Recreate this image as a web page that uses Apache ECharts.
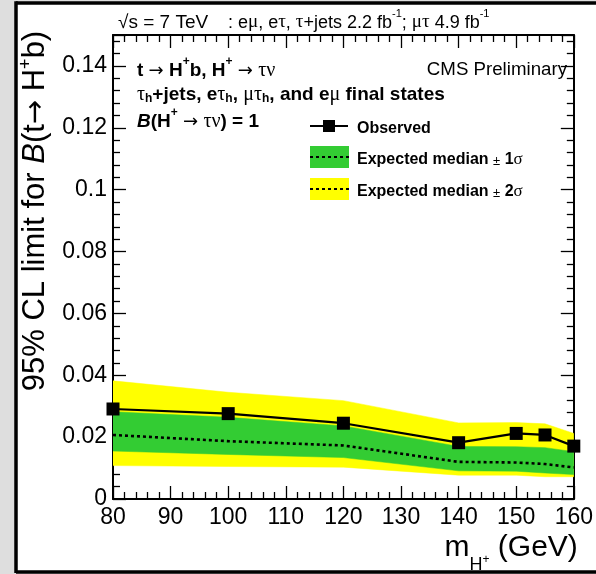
<!DOCTYPE html>
<html>
<head>
<meta charset="utf-8">
<script src="https://cdn.jsdelivr.net/npm/echarts@6/dist/echarts.min.js"></script>
<style>
  html, body { margin: 0; padding: 0; background: #dedede; }
  #chart { width: 596px; height: 574px; }
</style>
</head>
<body>
<div id="chart"></div>
<script>
// Charged Higgs mass points (GeV)
const massPoints = [80, 100, 120, 140, 150, 155, 160];
// 95% CL upper limits on B(t -> H+ b)
const observed       = [0.0291, 0.0276, 0.0245, 0.0182, 0.0212, 0.0207, 0.0171];
const expectedMedian = [0.0207, 0.0187, 0.0173, 0.0120, 0.0118, 0.0113, 0.0102];
const expected1sUp   = [0.0282, 0.0264, 0.0236, 0.0170, 0.0169, 0.0166, 0.0153];
const expected1sDown = [0.0155, 0.0144, 0.0134, 0.0091, 0.0090, 0.0084, 0.0079];
const expected2sUp   = [0.0382, 0.0345, 0.0318, 0.0246, 0.0247, 0.0243, 0.0212];
const expected2sDown = [0.0108, 0.0105, 0.0103, 0.0077, 0.0077, 0.0072, 0.0072];
// Axis tick labels
const xTicks = [80, 90, 100, 110, 120, 130, 140, 150, 160];
const yTicks = [0, 0.02, 0.04, 0.06, 0.08, 0.1, 0.12, 0.14];

const SANS = "'Liberation Sans', Arial, Helvetica, sans-serif";
const SERIF = "'Liberation Serif', 'DejaVu Serif', serif";
const ARROW = "'DejaVu Sans', 'Liberation Sans', sans-serif";
const GREEN = '#33cc33';
const YELLOW = '#ffff00';

function richSet(size, weight) {
  const lh = size + 6;
  const base = { fontFamily: SANS, fontSize: size, fontWeight: weight, fill: '#000', color: '#000', lineHeight: lh, verticalAlign: 'bottom' };
  return {
    n: base,
    i: Object.assign({}, base, { fontStyle: 'italic' }),
    g: Object.assign({}, base, { fontFamily: SERIF, fontWeight: 'normal', fontSize: size + 1 }),
    ar: Object.assign({}, base, { fontFamily: ARROW, fontWeight: 'normal', fontSize: size - 1 }),
    pm: Object.assign({}, base, { fontWeight: 'normal', fontSize: size - 3 }),
    sup: { fontFamily: SANS, fontSize: Math.round(size * 0.62), fontWeight: weight, fill: '#000', color: '#000',
           lineHeight: Math.round(size * 0.7), verticalAlign: 'top' },
    sub: { fontFamily: SANS, fontSize: Math.round(size * 0.62), fontWeight: weight, fill: '#000', color: '#000',
           lineHeight: Math.round(size * 0.45), verticalAlign: 'bottom' }
  };
}

function label(x, y, text, size, weight, align) {
  return {
    type: 'text', x: x, y: y, z: 50, silent: true,
    style: {
      text: text, rich: richSet(size, weight), fill: '#000',
      align: align || 'left', verticalAlign: 'middle',
      textAlign: align || 'left', textVerticalAlign: 'middle'
    }
  };
}

function isTick(list, v) {
  return list.some(t => Math.abs(t - v) < 1e-9);
}

// Filled band between an upper and a lower limit curve
function bandSeries(name, upper, lower, color, z) {
  return {
    type: 'custom', name: name, silent: true, clip: true, z: z,
    xAxisIndex: 0, yAxisIndex: 0,
    data: [[massPoints[0], lower[0]]],
    encode: { x: 0, y: 1 },
    renderItem: function (params, api) {
      const pts = [];
      for (let i = 0; i < massPoints.length; i++) pts.push(api.coord([massPoints[i], upper[i]]));
      for (let i = massPoints.length - 1; i >= 0; i--) pts.push(api.coord([massPoints[i], lower[i]]));
      return { type: 'polygon', shape: { points: pts }, style: { fill: color, stroke: color, lineWidth: 0.5 } };
    }
  };
}

const tickStyle = { color: '#000', width: 1.3 };
function frameAxis(extra) {
  return Object.assign({
    type: 'value',
    axisLine: { show: true, onZero: false, lineStyle: { color: '#000', width: 2 } },
    axisTick: { show: true, inside: true, length: 13, lineStyle: tickStyle },
    minorTick: { show: true, splitNumber: 5, length: 7, lineStyle: tickStyle },
    splitLine: { show: false },
    minorSplitLine: { show: false }
  }, extra);
}

function frameLine(x1, y1, x2, y2) {
  return {
    type: 'line', z: -5, silent: true,
    shape: { x1: x1, y1: y1, x2: x2, y2: y2 },
    style: { stroke: '#000', lineWidth: 3.5 }
  };
}

const chart = echarts.init(document.getElementById('chart'), null, { renderer: 'canvas' });

chart.setOption({
  backgroundColor: '#dedede',
  animation: false,
  grid: { left: 113, right: 17, top: 35, bottom: 75, containLabel: false },
  xAxis: [
    frameAxis({
      position: 'bottom', min: 80, max: 160, interval: 10,
      axisLabel: {
        show: true, margin: 7, color: '#000', fontFamily: SANS, fontSize: 23,
        showMaxLabel: true, showMinLabel: true,
        formatter: v => (isTick(xTicks, v) ? String(v) : '')
      },
      name: '{n|m}{sub|H}{sp|+}{n| (GeV)}',
      nameLocation: 'end', nameGap: 4,
      nameTextStyle: {
        align: 'right', verticalAlign: 'top', padding: [34, 0, 0, 0],
        rich: {
          n: { fontFamily: SANS, fontSize: 30, color: '#000', lineHeight: 30, verticalAlign: 'top' },
          sub: { fontFamily: SANS, fontSize: 18, color: '#000', lineHeight: 18, verticalAlign: 'top', padding: [23, 0, 0, 0] },
          sp: { fontFamily: SANS, fontSize: 12, color: '#000', lineHeight: 12, verticalAlign: 'top', padding: [21, 0, 0, 0] }
        }
      }
    }),
    frameAxis({
      position: 'top', min: 80, max: 160, interval: 10,
      axisLabel: { show: false }
    })
  ],
  yAxis: [
    frameAxis({
      position: 'left', min: 0, max: 0.15, interval: 0.02,
      axisLabel: {
        show: true, margin: 6, color: '#000', fontFamily: SANS, fontSize: 23,
        formatter: v => (isTick(yTicks, v) ? String(+v.toFixed(2)) : '')
      },
      name: '{n|95% CL limit for }{i|B}{n|(t}{ar|\u2192}{n| H}{sup|+}{n|b)}',
      nameLocation: 'middle', nameGap: 51, nameRotate: 90,
      nameTextStyle: {
        padding: [0, 0, 0, 112],
        rich: {
          n: { fontFamily: SANS, fontSize: 31, color: '#000', lineHeight: 34, verticalAlign: 'bottom' },
          i: { fontFamily: SANS, fontSize: 31, fontStyle: 'italic', color: '#000', lineHeight: 34, verticalAlign: 'bottom' },
          ar: { fontFamily: ARROW, fontSize: 29, color: '#000', lineHeight: 34, verticalAlign: 'bottom' },
          sup: { fontFamily: SANS, fontSize: 18, color: '#000', lineHeight: 18, verticalAlign: 'top' }
        }
      }
    }),
    frameAxis({
      position: 'right', min: 0, max: 0.15, interval: 0.02,
      axisLabel: { show: false }
    })
  ],
  series: [
    bandSeries('Expected median \u00b1 2\u03c3', expected2sUp, expected2sDown, YELLOW, 1),
    bandSeries('Expected median \u00b1 1\u03c3', expected1sUp, expected1sDown, GREEN, 2),
    {
      type: 'line', name: 'Expected median', z: 3,
      data: massPoints.map((m, i) => [m, expectedMedian[i]]),
      symbol: 'none', silent: true,
      lineStyle: { color: '#000', width: 2.6, type: [3, 3] }
    },
    {
      type: 'line', name: 'Observed', z: 4,
      data: massPoints.map((m, i) => [m, observed[i]]),
      symbol: 'rect', symbolSize: 13, silent: true,
      itemStyle: { color: '#000' },
      lineStyle: { color: '#000', width: 2.2 }
    }
  ],
  graphic: [
    // white canvas with black frame on the visible sides
    {
      type: 'rect', z: -10, silent: true,
      shape: { x: 16, y: 3, width: 580, height: 569 },
      style: { fill: '#ffffff' }
    },
    frameLine(16, 3, 596, 3),
    frameLine(16, 1.25, 16, 573),
    frameLine(16, 572, 596, 572),
    // header
    label(118, 20, '{n|\u221as = 7 TeV}', 19, 'normal'),
    label(228, 20, '{n|: e}{g|\u03bc}{n|, e}{g|\u03c4}{n|, }{g|\u03c4}{n|+jets 2.2 fb}{sup|-1}{n|; }{g|\u03bc\u03c4}{n| 4.9 fb}{sup|-1}', 18, 'normal'),
    // annotations inside the frame
    label(137, 68, '{n|t }{ar|\u2192}{n| H}{sup|+}{n|b, H}{sup|+}{n| }{ar|\u2192}{n| }{g|\u03c4\u03bd}', 19, 'bold'),
    label(137, 92, '{g|\u03c4}{sub|h}{n|+jets, e}{g|\u03c4}{sub|h}{n|, }{g|\u03bc\u03c4}{sub|h}{n|, and e}{g|\u03bc}{n| final states}', 19, 'bold'),
    label(137, 119, '{i|B}{n|(H}{sup|+}{n| }{ar|\u2192}{n| }{g|\u03c4\u03bd}{n|) = 1}', 19, 'bold'),
    label(567, 67, '{n|CMS Preliminary}', 18.7, 'normal', 'right'),
    // legend: observed
    {
      type: 'line', z: 50, silent: true,
      shape: { x1: 310, y1: 126, x2: 348, y2: 126 },
      style: { stroke: '#000', lineWidth: 2.2 }
    },
    {
      type: 'rect', z: 51, silent: true,
      shape: { x: 323, y: 120, width: 12, height: 12 },
      style: { fill: '#000' }
    },
    label(357, 126, '{n|Observed}', 16, 'bold'),
    // legend: 1 sigma
    {
      type: 'rect', z: 50, silent: true,
      shape: { x: 310, y: 146, width: 39, height: 22 },
      style: { fill: GREEN }
    },
    {
      type: 'line', z: 51, silent: true,
      shape: { x1: 310, y1: 157, x2: 349, y2: 157 },
      style: { stroke: '#000', lineWidth: 2.2, lineDash: [3, 3] }
    },
    label(357, 157, '{n|Expected median }{pm|\u00b1}{n| 1}{g|\u03c3}', 16, 'bold'),
    // legend: 2 sigma
    {
      type: 'rect', z: 50, silent: true,
      shape: { x: 310, y: 178, width: 39, height: 22 },
      style: { fill: YELLOW }
    },
    {
      type: 'line', z: 51, silent: true,
      shape: { x1: 310, y1: 189, x2: 349, y2: 189 },
      style: { stroke: '#000', lineWidth: 2.2, lineDash: [3, 3] }
    },
    label(357, 189, '{n|Expected median }{pm|\u00b1}{n| 2}{g|\u03c3}', 16, 'bold')
  ]
});
</script>
</body>
</html>
